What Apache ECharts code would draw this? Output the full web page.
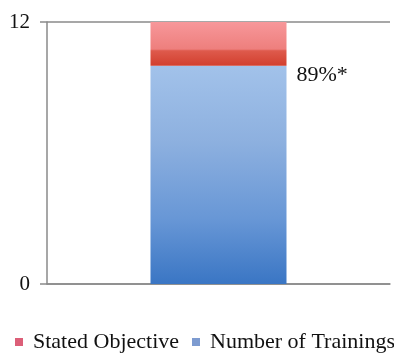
<!DOCTYPE html>
<html>
<head>
<meta charset="utf-8">
<script src="https://cdn.jsdelivr.net/npm/echarts@6/dist/echarts.min.js"></script>
<style>
  html, body { margin: 0; padding: 0; background: #fff; }
  #chart { width: 394px; height: 354px; }
</style>
</head>
<body>
<div id="chart"></div>
<script>
// Single-category comparison: training count against the stated objective
const categories = ['Trainings'];
const statedObjective = [12];
const numberOfTrainings = [10];
const trainingsLabel = '89%*';
const yTicks = [0, 12];

// The objective is shown as the part of the target still above the trainings
const objectiveRemainder = statedObjective.map((v, i) => v - numberOfTrainings[i]);

const serif = '"Liberation Serif", "DejaVu Serif", serif';

const chart = echarts.init(document.getElementById('chart'), null, { renderer: 'canvas' });

chart.setOption({
  animation: false,
  backgroundColor: '#ffffff',
  grid: { left: 47, right: 4, top: 22, bottom: 70 },
  legend: {
    bottom: 1,
    left: 15,
    width: 420,
    padding: 0,
    itemWidth: 8,
    itemHeight: 8,
    itemGap: 13,
    icon: 'rect',
    textStyle: { fontFamily: serif, fontSize: 22, color: '#111', padding: [0, 0, 0, 5] },
    data: [
      { name: 'Stated Objective', itemStyle: { color: '#dc5f78' } },
      { name: 'Number of Trainings', itemStyle: { color: '#7d9bd0' } }
    ]
  },
  xAxis: {
    type: 'category',
    data: categories,
    axisLine: { show: true, lineStyle: { color: '#8a8a8a', width: 1.5 } },
    axisTick: { show: false },
    axisLabel: { show: false },
    splitLine: { show: false }
  },
  yAxis: {
    type: 'value',
    min: yTicks[0],
    max: yTicks[yTicks.length - 1],
    interval: yTicks[1] - yTicks[0],
    axisLine: { show: true, lineStyle: { color: '#8a8a8a', width: 1.5 } },
    axisTick: { show: true, length: 7, lineStyle: { color: '#8a8a8a', width: 1.5 } },
    axisLabel: { margin: 17, fontFamily: serif, fontSize: 21, color: '#111' },
    splitLine: { show: true, lineStyle: { color: '#8a8a8a', width: 1.5 } }
  },
  series: [
    {
      name: 'Number of Trainings',
      type: 'bar',
      stack: 'total',
      data: numberOfTrainings,
      barWidth: 136,
      itemStyle: {
        color: {
          type: 'linear', x: 0, y: 0, x2: 0, y2: 1,
          colorStops: [
            { offset: 0, color: '#a2c2ea' },
            { offset: 0.35, color: '#8db0df' },
            { offset: 0.7, color: '#6897d6' },
            { offset: 1, color: '#3a76c4' }
          ]
        }
      },
      label: {
        show: true,
        position: ['100%', 0],
        offset: [10, -1],
        formatter: trainingsLabel,
        fontFamily: serif,
        fontSize: 22,
        color: '#111'
      }
    },
    {
      name: 'Stated Objective',
      type: 'bar',
      stack: 'total',
      data: objectiveRemainder,
      barWidth: 136,
      itemStyle: {
        color: {
          type: 'linear', x: 0, y: 0, x2: 0, y2: 1,
          colorStops: [
            { offset: 0, color: '#f7979a' },
            { offset: 0.62, color: '#ee7f7d' },
            { offset: 0.66, color: '#de5a4c' },
            { offset: 1, color: '#d23f2e' }
          ]
        }
      }
    }
  ]
});
</script>
</body>
</html>
